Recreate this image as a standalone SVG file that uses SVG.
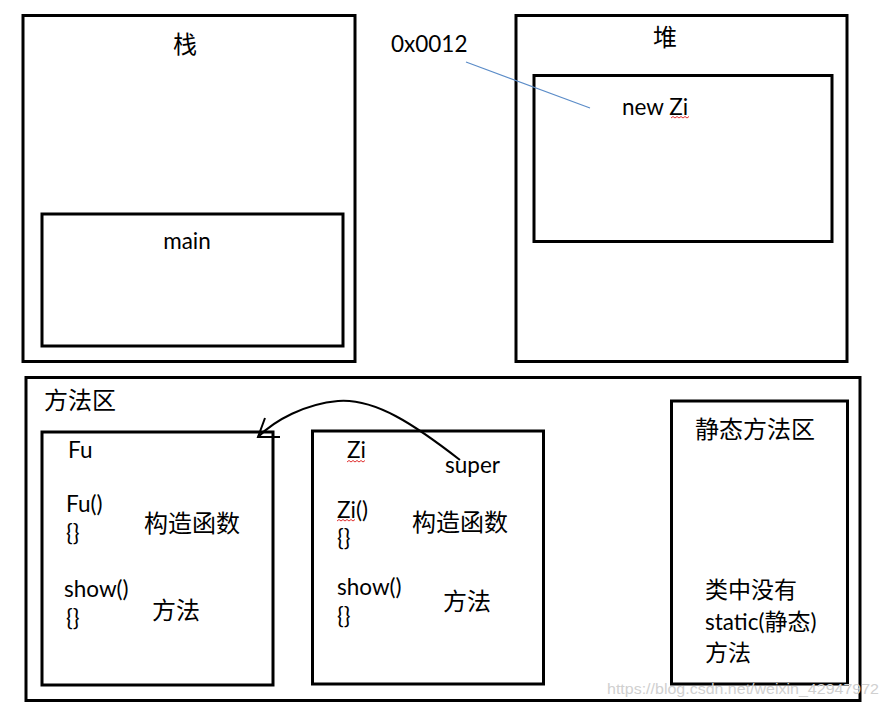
<svg xmlns="http://www.w3.org/2000/svg" width="888" height="707" viewBox="0 0 888 707">
<style>
.box{fill:none;stroke:#000;stroke-width:3}
.t{font-family:Lato,"Noto Sans CJK SC",sans-serif;font-size:22.5px;fill:#000}
.c{font-family:"Noto Sans CJK SC",sans-serif;font-size:24px;fill:#000}
.s{font-size:23px}
.sq{fill:none;stroke:#e03030;stroke-width:1}
.wm{font-family:"Liberation Sans",sans-serif;font-size:15px;fill:#d0d0d0}
</style>
<rect width="888" height="707" fill="#fff"/>
<g id="stack">
<rect class="box" x="23" y="15.5" width="332" height="346"/>
<text class="c" x="185" y="53" text-anchor="middle">栈</text>
</g>
<g id="main">
<rect class="box" x="42" y="214" width="301" height="132"/>
<text class="t" x="187" y="249" text-anchor="middle">main</text>
</g>
<g id="heap">
<rect class="box" x="516" y="15.5" width="331" height="346"/>
<text class="c" x="665" y="46" text-anchor="middle">堆</text>
</g>
<g id="newzi">
<rect class="box" x="534" y="75.5" width="298" height="166"/>
<text class="t" x="622" y="115">new Zi</text>
<path class="sq" d="M671,118 l2,-1.5 l2,1.5 l2,-1.5 l2,1.5 l2,-1.5 l2,1.5 l2,-1.5 l2,1.5 l2,-1.5"/>
</g>
<g id="addr">
<text class="t" x="391" y="52">0x0012</text>
</g>
<g id="methodArea">
<rect class="box" x="26" y="377.5" width="834" height="323"/>
<text class="c" x="44" y="409">方法区</text>
</g>
<g id="fu">
<rect class="box" x="42" y="432" width="231" height="253"/>
<text class="t" x="68" y="458">Fu</text>
<text class="t" x="66" y="512">Fu()</text>
<text class="t" x="66" y="541">{}</text>
<text class="c" x="144" y="532">构造函数</text>
<text class="t" x="64" y="597">show()</text>
<text class="t" x="66" y="626">{}</text>
<text class="c" x="152" y="619">方法</text>
</g>
<g id="zi">
<rect class="box" x="312.5" y="431" width="231" height="253"/>
<text class="t" x="347" y="458">Zi</text>
<path class="sq" d="M347,462 l2,-1.5 l2,1.5 l2,-1.5 l2,1.5 l2,-1.5 l2,1.5 l2,-1.5 l2,1.5 l2,-1.5"/>
<text class="t" x="445" y="473">super</text>
<text class="t" x="337" y="518">Zi()</text>
<path class="sq" d="M337,521 l2,-1.5 l2,1.5 l2,-1.5 l2,1.5 l2,-1.5 l2,1.5 l2,-1.5 l2,1.5 l2,-1.5"/>
<text class="t" x="337" y="546">{}</text>
<text class="c" x="412" y="531">构造函数</text>
<text class="t" x="337" y="595">show()</text>
<text class="t" x="337" y="624">{}</text>
<text class="c" x="443" y="610">方法</text>
</g>
<g id="static">
<rect class="box" x="671.5" y="401" width="176" height="283"/>
<text class="c" x="695" y="438">静态方法区</text>
<text class="c s" x="705" y="598">类中没有</text>
<text class="t" x="705" y="630">static(<tspan class="c s">静态</tspan>)</text>
<text class="c s" x="705" y="661">方法</text>
</g>
<g id="connectors">
<line x1="466" y1="62" x2="590" y2="108" stroke="#5b8cc8" stroke-width="1.2"/>
<path d="M460,460 C415,425 375,398 338,401 C305,404 275,420 258,437" fill="none" stroke="#000" stroke-width="2"/>
<path d="M265,418 L258,437 L280,437" fill="none" stroke="#000" stroke-width="2"/>
</g>
<text class="wm" x="607" y="694" textLength="272" lengthAdjust="spacingAndGlyphs">https://blog.csdn.net/weixin_42947972</text>
</svg>
